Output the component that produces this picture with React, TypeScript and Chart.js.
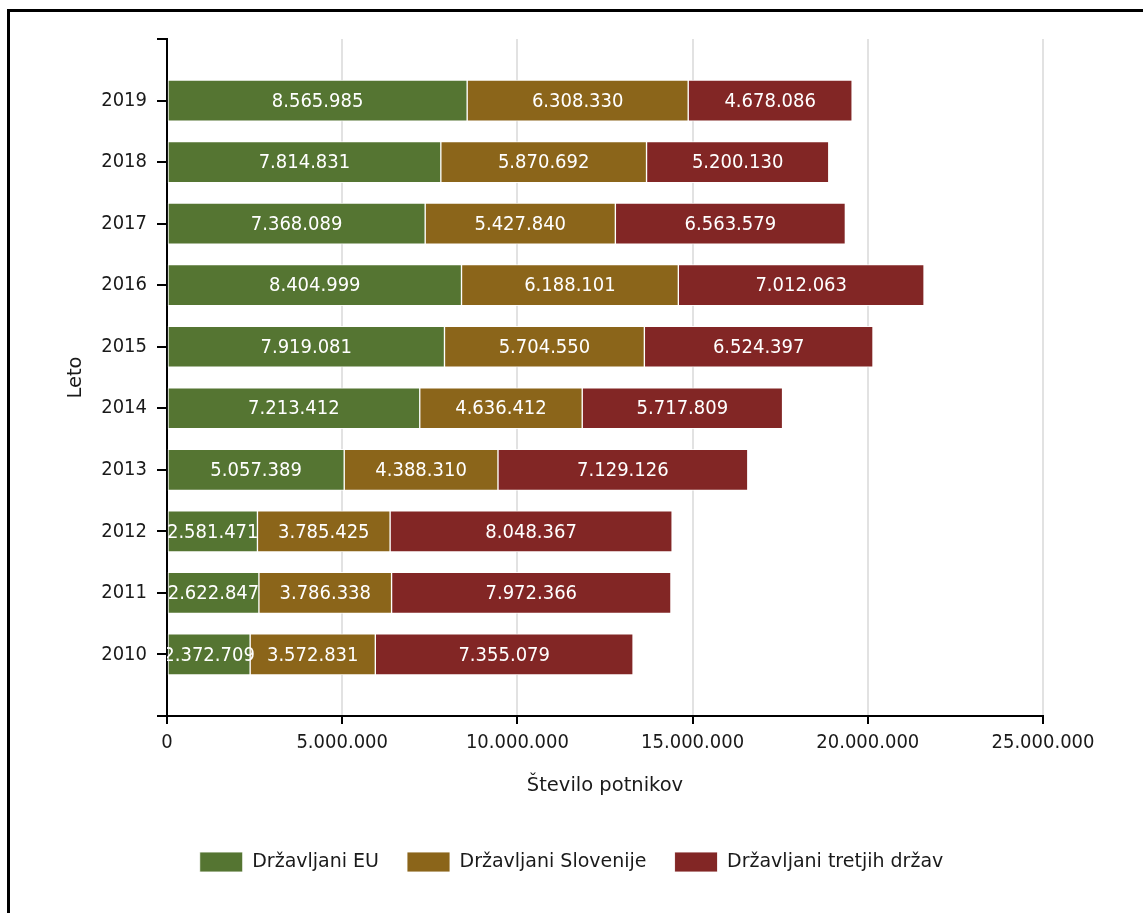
import React, { useEffect, useRef } from "react";
import { Chart, registerables } from "chart.js";

Chart.register(...registerables);

const years = ["2019", "2018", "2017", "2016", "2015", "2014", "2013", "2012", "2011", "2010"];
const euCitizens = [8565985, 7814831, 7368089, 8404999, 7919081, 7213412, 5057389, 2581471, 2622847, 2372709];
const sloCitizens = [6308330, 5870692, 5427840, 6188101, 5704550, 4636412, 4388310, 3785425, 3786338, 3572831];
const thirdCitizens = [4678086, 5200130, 6563579, 7012063, 6524397, 5717809, 7129126, 8048367, 7972366, 7355079];
const seriesNames = ["Državljani EU", "Državljani Slovenije", "Državljani tretjih držav"];
const seriesColors = ["#557532", "#8b651a", "#822625"];
const xTickMax = 25000000;
const xTickStep = 5000000;

const fmt = (n: number) => Math.round(n).toString().replace(/\B(?=(\d{3})+(?!\d))/g, ".");

const FONT = '"DejaVu Sans", sans-serif';
const NUMFONT = '"DejaVu Sans Condensed", "DejaVu Sans", sans-serif';

const segLabels = {
  id: "segLabels",
  afterDatasetsDraw(chart: any) {
    const { ctx, chartArea } = chart;
    ctx.save();
    ctx.beginPath();
    ctx.rect(chartArea.left, chartArea.top, chartArea.right - chartArea.left, chartArea.bottom - chartArea.top);
    ctx.clip();
    ctx.font = `20px ${NUMFONT}`;
    ctx.fillStyle = "#ffffff";
    ctx.textAlign = "center";
    ctx.textBaseline = "middle";
    chart.data.datasets.forEach((ds: any, i: number) => {
      const meta = chart.getDatasetMeta(i);
      meta.data.forEach((el: any, j: number) => {
        const v = ds.data[j];
        if (v == null) return;
        const p = el.getProps(["x", "y", "base"], true);
        ctx.fillText(fmt(v), (p.x + p.base) / 2, p.y + 1);
      });
    });
    ctx.restore();
  },
};

export default function App() {
  const ref = useRef<HTMLCanvasElement | null>(null);

  useEffect(() => {
    if (!ref.current) return;
    Chart.defaults.font.family = FONT;
    const labels = ["", ...years, ""];
    const pad = (arr: number[]) => [null, ...arr, null];
    const data = [euCitizens, sloCitizens, thirdCitizens];
    const chart = new Chart(ref.current, {
      type: "bar",
      data: {
        labels,
        datasets: seriesNames.map((name, i) => ({
          label: name,
          data: pad(data[i]) as any,
          backgroundColor: seriesColors[i],
          borderColor: "rgba(255,255,255,0.85)",
          borderWidth: 1,
          borderSkipped: false,
          barThickness: 41,
        })),
      },
      options: {
        indexAxis: "y",
        responsive: false,
        animation: false,
        layout: { padding: { left: 50, right: 50, top: 39, bottom: 31 } },
        plugins: {
          tooltip: { enabled: false },
          legend: {
            position: "bottom",
            labels: {
              boxWidth: 43,
              boxHeight: 20,
              padding: 28,
              color: "#1a1a1a",
              font: { size: 19, family: FONT },
            },
          },
        },
        scales: {
          x: {
            type: "linear",
            stacked: true,
            min: 0,
            max: xTickMax,
            afterFit: (s: any) => {
              s.height = 108;
            },
            ticks: {
              stepSize: xTickStep,
              color: "#1a1a1a",
              padding: 7,
              font: { size: 20, family: NUMFONT },
              callback: (v: any) => fmt(Number(v)),
            },
            grid: {
              color: "#e2e2e2",
              lineWidth: 2,
              tickColor: "#000",
              tickLength: 8,
            },
            border: { display: true, color: "#000", width: 2 },
            title: {
              display: true,
              text: "Število potnikov",
              color: "#1a1a1a",
              font: { size: 19.5, family: FONT },
              padding: { top: 0, bottom: 26 },
            },
          },
          y: {
            type: "category",
            stacked: true,
            offset: false,
            afterFit: (s: any) => {
              s.width = 117;
            },
            ticks: {
              color: "#1a1a1a",
              padding: 10,
              autoSkip: false,
              font: { size: 20, family: NUMFONT },
            },
            grid: {
              offset: false,
              drawOnChartArea: false,
              color: "#000",
              tickColor: "#000",
              lineWidth: 2,
              tickLength: 10,
            },
            border: { display: true, color: "#000", width: 2 },
            title: {
              display: true,
              text: "Leto",
              color: "#1a1a1a",
              font: { size: 19.5, family: FONT },
              padding: { top: 14, bottom: 0 },
            },
          },
          yRight: {
            axis: "y",
            type: "linear",
            position: "right",
            afterFit: (s: any) => {
              s.width = 50;
            },
            ticks: { display: false },
            grid: { display: false },
            border: { display: false },
          },
        },
      } as any,
      plugins: [segLabels],
    });
    return () => chart.destroy();
  }, []);

  return (
    <div style={{ position: "fixed", left: 0, top: 0, width: 1143, height: 913, overflow: "hidden", background: "#fff" }}>
      <div
        style={{
          position: "absolute",
          left: 7,
          top: 9,
          width: 2000,
          height: 2000,
          border: "3px solid #000",
          boxSizing: "border-box",
        }}
      />
      <canvas
        ref={ref}
        width={1143}
        height={913}
        style={{ position: "absolute", left: 0, top: 0, width: 1143, height: 913, display: "block" }}
      />
    </div>
  );
}
